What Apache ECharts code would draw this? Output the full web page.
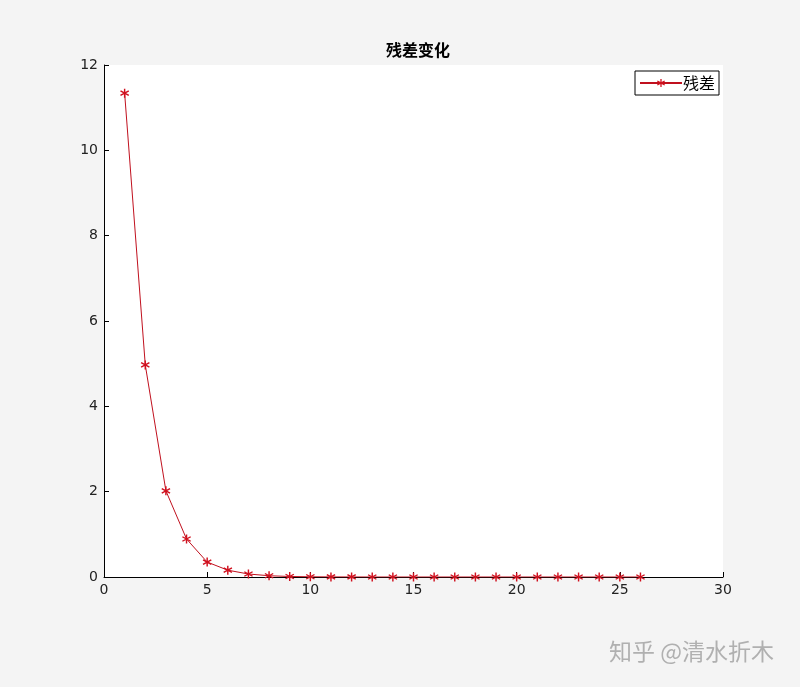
<!DOCTYPE html>
<html>
<head>
<meta charset="utf-8">
<script src="https://cdn.jsdelivr.net/npm/echarts@6/dist/echarts.min.js"></script>
<style>
html,body{margin:0;padding:0;background:#f4f4f4;}
#main{width:800px;height:687px;}
</style>
</head>
<body>
<div id="main"></div>
<script>
// 迭代次数与残差
var iters = [1,2,3,4,5,6,7,8,9,10,11,12,13,14,15,16,17,18,19,20,21,22,23,24,25,26];
var residual = [11.34,4.97,2.02,0.89,0.35,0.16,0.07,0.03,0.012,0.005,0.002,0.001,0,0,0,0,0,0,0,0,0,0,0,0,0,0];
var xTicks = [0,30,5];   // min, max, interval
var yTicks = [0,12,2];

// 星号标记(加粗一点)
var star = 'path://M8.5,20L11.5,20L11.5,0L8.5,0Z' +
    'M17.91,16.3L19.41,13.7L2.09,3.7L0.59,6.3Z' +
    'M0.59,13.7L2.09,16.3L19.41,6.3L17.91,3.7Z';

var pts = [];
for (let i = 0; i < iters.length; i++) {
    pts.push([iters[i], residual[i]]);
}

var myChart = echarts.init(document.getElementById("main"));
var option = {
    backgroundColor: '#f4f4f4',
    title: {
        text: '残差变化',
        left: 413,
        top: 37,
        textAlign: 'center',
        textStyle: {
            fontFamily: 'Noto Sans CJK SC',
            fontSize: 16,
            fontWeight: 'bold',
            color: '#000'
        }
    },
    legend: {
        left: 635,
        top: 71,
        padding: [4, 4, 4, 4],
        itemWidth: 42,
        itemHeight: 10,
        itemGap: 2,
        backgroundColor: '#fff',
        borderColor: '#000',
        borderWidth: 1,
        borderRadius: 0,
        textStyle: {
            fontFamily: 'Noto Sans CJK SC',
            fontSize: 16,
            color: '#000',
            padding: [0, 0, 0, -4]
        },
        data: ['残差']
    },
    grid: {
        left: 104,
        right: 77,
        top: 65,
        bottom: 110,
        show: true,
        backgroundColor: '#fff',
        borderWidth: 0
    },
    xAxis: {
        type: 'value',
        min: xTicks[0],
        max: xTicks[1],
        interval: xTicks[2],
        axisLine: {lineStyle: {color: '#000', width: 1}},
        axisTick: {inside: true, length: 5, lineStyle: {color: '#000'}},
        axisLabel: {color: '#222', fontFamily: 'DejaVu Sans', fontSize: 14, margin: 6},
        splitLine: {show: false}
    },
    yAxis: {
        type: 'value',
        min: yTicks[0],
        max: yTicks[1],
        interval: yTicks[2],
        axisLine: {show: true, lineStyle: {color: '#000', width: 1}},
        axisTick: {show: true, inside: true, length: 5, lineStyle: {color: '#000'}},
        axisLabel: {color: '#222', fontFamily: 'DejaVu Sans', fontSize: 14, margin: 6},
        splitLine: {show: false}
    },
    graphic: [{
        type: 'text',
        left: 609,
        top: 640,
        style: {
            text: '知乎 @清水折木',
            font: '23px "Noto Sans CJK SC"',
            fill: '#b0b0b0',
            shadowColor: 'rgba(0,0,0,0.3)',
            shadowBlur: 2,
            shadowOffsetX: 1,
            shadowOffsetY: 1
        }
    }],
    series: [{
        name: '残差',
        type: 'line',
        data: pts,
        color: '#d0101e',
        symbol: star,
        symbolSize: 9,
        showAllSymbol: true,
        lineStyle: {width: 1, color: '#c0101e'},
        itemStyle: {color: '#d0101e'},
        animation: false
    }]
};
myChart.setOption(option);
</script>
</body>
</html>
